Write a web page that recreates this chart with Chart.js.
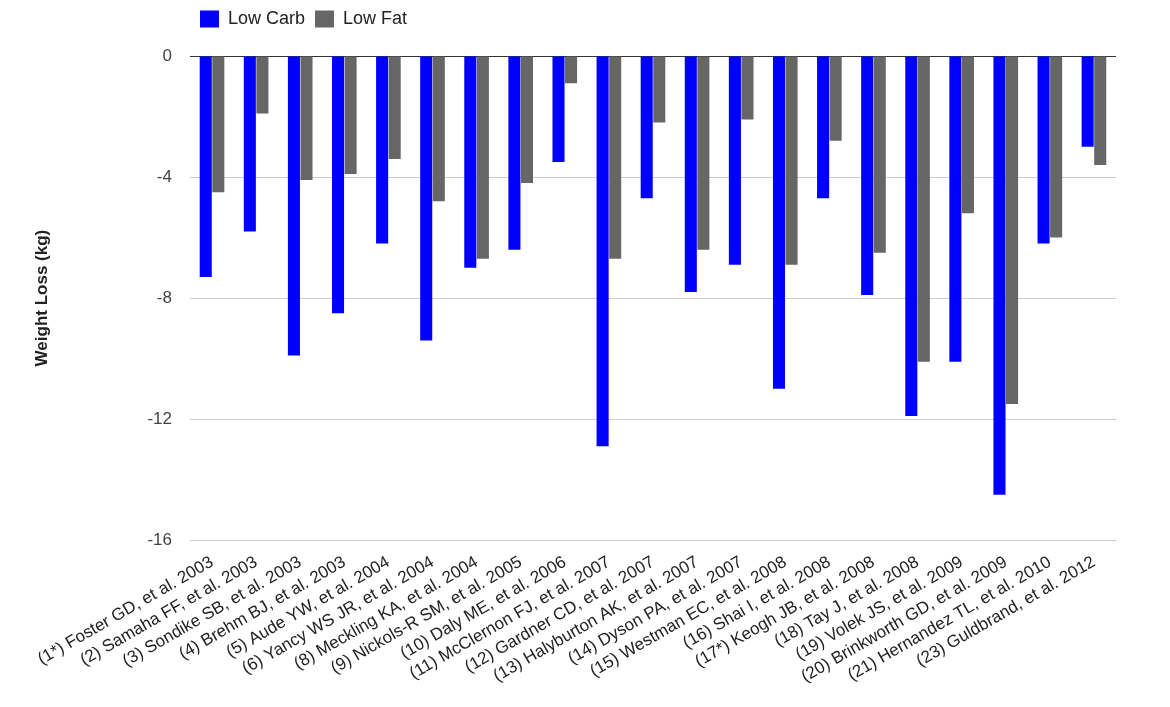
<!DOCTYPE html>
<html lang="en">
<head>
    <meta charset="UTF-8">
    <title>Weight Loss</title>
    <style>
      body { margin: 0; background: #fff; }
    </style>
</head>
<body>
    <div style="width: 1170px; height: 707px;">
        <canvas id="grafico1"></canvas>
    </div>
    <script src="https://cdn.jsdelivr.net/npm/chart.js"></script>
    <script>
      const estudos = ['(1*) Foster GD, et al. 2003', '(2) Samaha FF, et al. 2003', '(3) Sondike SB, et al. 2003',
        '(4) Brehm BJ, et al. 2003', '(5) Aude YW, et al. 2004', '(6) Yancy WS JR, et al. 2004',
        '(8) Meckling KA, et al. 2004', '(9) Nickols-R SM, et al. 2005', '(10) Daly ME, et al. 2006',
        '(11) McClernon FJ, et al. 2007', '(12) Gardner CD, et al. 2007', '(13) Halyburton AK, et al. 2007',
        '(14) Dyson PA, et al. 2007', '(15) Westman EC, et al. 2008', '(16) Shai I, et al. 2008',
        '(17*) Keogh JB, et al. 2008', '(18) Tay J, et al. 2008', '(19) Volek JS, et al. 2009',
        '(20) Brinkworth GD, et al. 2009', '(21) Hernandez TL, et al. 2010', '(23) Guldbrand, et al. 2012'];

      const lowCarb = [-7.3, -5.8, -9.9, -8.5, -6.2, -9.4, -7.0, -6.4, -3.5, -12.9, -4.7,
        -7.8, -6.9, -11.0, -4.7, -7.9, -11.9, -10.1, -14.5, -6.2, -3.0];
      const lowFat = [-4.5, -1.9, -4.1, -3.9, -3.4, -4.8, -6.7, -4.2, -0.9, -6.7, -2.2,
        -6.4, -2.1, -6.9, -2.8, -6.5, -10.1, -5.2, -11.5, -6.0, -3.6];

      const ticksY = [0, -4, -8, -12, -16];

      const ctx = document.getElementById('grafico1');
      const fonte = "'Liberation Sans', Arial, sans-serif";

      // espaco extra entre a legenda e a area do grafico
      const legendaGap = {
        id: 'legendaGap',
        beforeInit(chart) {
          const fitOriginal = chart.legend.fit;
          chart.legend.fit = function () {
            fitOriginal.bind(chart.legend)();
            this.height += 18;
          };
        }
      };

      let grafico1 = new Chart(ctx, {
        type: 'bar',
        data: {
          labels: estudos,
          datasets: [{
            label: 'Low Carb',
            data: lowCarb,
            backgroundColor: '#0000ff',
            borderWidth: 0
          }, {
            label: 'Low Fat',
            data: lowFat,
            backgroundColor: '#666666',
            borderWidth: 0
          }]
        },
        plugins: [legendaGap],
        options: {
          responsive: true,
          maintainAspectRatio: false,
          animation: false,
          datasets: { bar: { categoryPercentage: 0.57, barPercentage: 0.96 } },
          layout: { padding: { left: 0, right: 54, top: 0, bottom: 16 } },
          plugins: {
            tooltip: { enabled: false },
            legend: {
              position: 'top',
              align: 'start',
              fullSize: false,
              labels: {
                boxWidth: 19,
                boxHeight: 17,
                color: '#222',
                font: { family: fonte, size: 18 },
                padding: 10
              }
            }
          },
          scales: {
            x: {
              grid: { display: false },
              border: { display: false },
              ticks: {
                autoSkip: false,
                minRotation: 30,
                maxRotation: 30,
                color: '#222',
                font: { family: fonte, size: 17 },
                padding: 4
              }
            },
            y: {
              min: -16,
              max: 0,
              afterBuildTicks: (eixo) => { eixo.ticks = ticksY.map(v => ({ value: v })); },
              grid: {
                color: (c) => c.tick && c.tick.value === 0 ? '#333' : '#ccc',
                drawTicks: false
              },
              border: { display: false },
              ticks: {
                color: '#444',
                font: { family: fonte, size: 17 },
                padding: 18
              },
              title: {
                display: true,
                text: 'Weight Loss (kg)',
                color: '#222',
                font: { family: fonte, size: 17, weight: 'bold' },
                padding: { top: 32, bottom: 77 }
              }
            }
          }
        }
      });
    </script>
</body>
</html>
